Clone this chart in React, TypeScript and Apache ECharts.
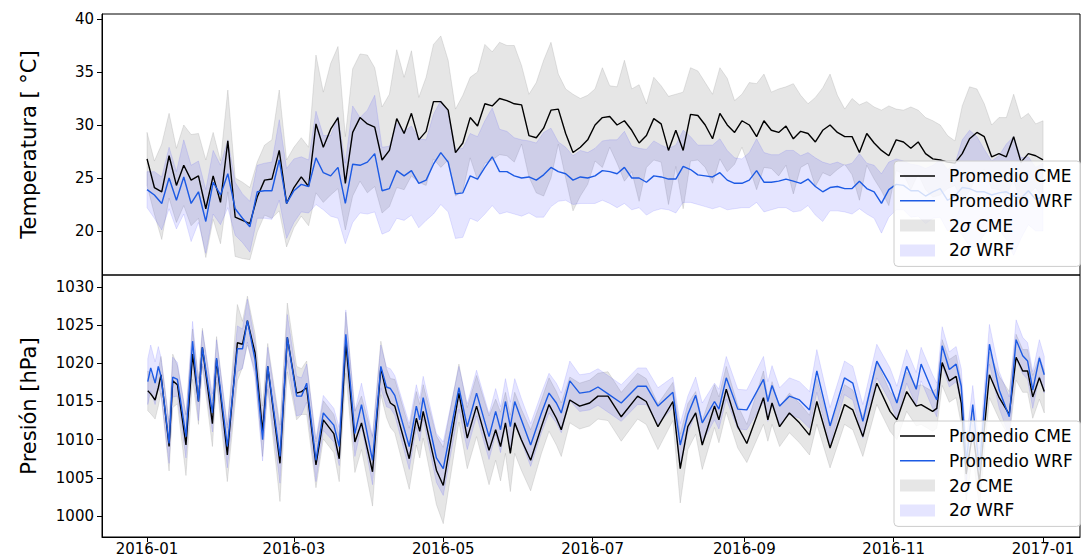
import React, { useEffect, useRef } from "react";
import * as echarts from "echarts";

// ---- axis ticks ----
const monthTicks = [0, 60, 121, 182, 244, 305, 366]; // days since 2016-01-01
const monthLabels = ["2016-01", "2016-03", "2016-05", "2016-07", "2016-09", "2016-11", "2017-01"];
const tempTicks = [20, 25, 30, 35, 40];
const presTicks = [1000, 1005, 1010, 1015, 1020, 1025, 1030];

// ---- temperature (°C), one sample every 3 days from 2016-01-01 ----
const tempStepDays = 3;
const tempCme = [
  26.8, 24.1, 23.7, 27.1, 24.3, 26.2, 24.8, 25.2, 22.1, 25.2,
  22.7, 28.5, 21.3, 21.0, 20.7, 23.2, 24.8, 24.9, 27.6, 22.6,
  24.1, 25.1, 24.2, 30.1, 27.9, 29.6, 30.7, 24.5, 29.3, 30.7,
  30.1, 29.8, 26.7, 27.6, 30.6, 29.2, 31.1, 28.6, 29.4, 32.2,
  32.2, 31.4, 27.4, 28.3, 30.7, 29.9, 32.0, 31.8, 32.5, 32.3,
  32.0, 31.9, 29.0, 28.8, 29.7, 31.4, 31.5, 29.2, 27.4, 27.9,
  28.6, 30.0, 30.7, 30.8, 30.0, 30.4, 29.5, 28.3, 29.0, 30.6,
  30.1, 27.6, 29.5, 27.6, 31.0, 30.9, 30.0, 28.7, 31.1, 30.0,
  29.3, 30.4, 30.0, 28.9, 30.4, 29.5, 29.3, 29.9, 28.7, 29.4,
  29.2, 28.4, 29.5, 30.0, 29.3, 28.9, 28.9, 27.4, 29.2, 28.3,
  27.6, 27.1, 28.6, 28.4, 27.8, 28.4, 27.3, 26.8, 26.7, 26.5,
  26.4, 27.3, 28.7, 29.3, 28.9, 27.0, 27.3, 27.0, 28.9, 26.5,
  27.3, 27.1, 26.7,
];
const tempWrf = [
  23.9, 23.4, 22.6, 25.0, 22.9, 25.1, 22.6, 23.7, 20.9, 24.6,
  23.4, 25.4, 22.1, 21.2, 20.4, 23.7, 23.8, 23.8, 26.7, 22.6,
  23.8, 24.4, 24.2, 26.9, 25.5, 25.2, 26.0, 22.6, 26.3, 26.2,
  26.5, 27.3, 23.8, 24.0, 25.7, 25.2, 25.7, 24.5, 24.8, 26.3,
  27.4, 26.5, 23.5, 23.6, 25.2, 24.9, 26.0, 27.0, 25.6, 25.6,
  25.2, 25.0, 25.1, 24.8, 25.3, 26.0, 25.6, 25.4, 24.8, 25.1,
  25.0, 25.2, 25.7, 25.6, 25.4, 26.0, 25.0, 25.0, 24.6, 25.2,
  25.1, 24.9, 24.9, 26.1, 25.8, 25.3, 25.2, 25.1, 25.5, 24.8,
  24.5, 24.5, 24.8, 25.7, 24.6, 24.6, 24.7, 24.9, 24.7, 24.5,
  24.9, 24.2, 23.7, 24.1, 24.2, 24.0, 24.0, 24.7, 24.0, 23.7,
  22.6, 23.9, 24.4, 24.3, 23.8, 23.8, 23.3, 23.7, 24.0, 22.9,
  23.3, 24.1, 24.0, 23.7, 23.7, 23.4, 23.6, 23.7, 23.3, 23.1,
  23.8, 23.0, 23.2,
];
// half width of the 2σ band
const tempCme2s = [
  2.5, 2.5, 4.5, 4.0, 3.5, 3.8, 4.3, 4.0, 4.6, 4.1,
  3.9, 4.8, 3.7, 3.6, 3.4, 3.3, 3.3, 3.7, 5.7, 4.1,
  3.8, 3.7, 3.7, 6.5, 5.2, 6.2, 6.7, 4.4, 6.0, 6.0,
  6.5, 5.6, 5.0, 5.3, 6.5, 5.3, 5.9, 4.0, 5.1, 5.4,
  6.2, 4.7, 4.1, 4.5, 3.8, 5.1, 5.6, 5.1, 5.3, 5.2,
  5.5, 3.7, 3.9, 5.2, 6.4, 6.4, 3.3, 4.2, 5.5, 4.6,
  4.2, 3.4, 4.7, 2.9, 3.6, 5.7, 3.9, 5.5, 3.0, 3.9,
  3.6, 5.1, 3.4, 5.5, 4.4, 4.2, 4.0, 4.2, 4.3, 4.4,
  3.0, 2.5, 4.0, 5.0, 4.4, 3.6, 4.1, 3.7, 5.2, 3.4,
  2.8, 4.2, 4.0, 4.8, 3.5, 2.6, 3.6, 4.5, 3.0, 3.4,
  3.8, 4.7, 2.9, 3.0, 3.9, 3.0, 3.4, 3.6, 3.3, 2.5,
  2.1, 4.5, 4.9, 4.1, 3.1, 3.0, 3.4, 3.7, 4.0, 4.1,
  3.8, 3.0, 3.7,
];
const tempWrf2s = [
  1.7, 2.2, 2.5, 2.9, 2.7, 3.5, 3.6, 2.9, 3.0, 3.0,
  2.8, 3.2, 2.5, 2.3, 2.4, 2.5, 2.6, 2.7, 3.8, 3.3,
  3.0, 2.6, 2.5, 4.4, 3.5, 3.8, 4.8, 3.8, 5.5, 4.5,
  4.9, 5.5, 4.1, 4.0, 4.5, 4.2, 4.2, 4.2, 3.8, 4.7,
  4.9, 4.7, 4.2, 4.2, 4.0, 4.0, 4.4, 4.6, 4.0, 3.8,
  3.6, 3.6, 3.4, 3.5, 4.0, 3.7, 2.8, 2.5, 2.3, 2.5,
  2.4, 2.6, 2.8, 3.0, 3.2, 3.4, 3.0, 2.8, 3.1, 3.3,
  3.0, 2.9, 3.2, 3.4, 3.1, 2.8, 2.9, 3.0, 3.2, 2.8,
  2.4, 2.3, 2.6, 3.0, 2.8, 2.6, 2.5, 2.7, 2.9, 2.6,
  2.5, 2.7, 2.8, 2.2, 2.3, 2.2, 2.4, 2.6, 2.4, 2.5,
  2.8, 2.6, 2.4, 2.3, 2.5, 2.4, 2.6, 2.5, 2.7, 2.9,
  3.0, 4.5, 5.5, 5.2, 4.0, 3.2, 3.5, 4.5, 5.6, 3.8,
  3.2, 3.0, 3.2,
];

// ---- pressure (hPa) at the turning points of the series ----
const presDays = [
  0.3, 1.5, 3.3, 4.6, 5.7, 9.0, 10.5, 12.4, 15.9, 18.6,
  21.0, 22.6, 26.7, 28.4, 32.8, 36.9, 39.0, 41.0, 44.1, 47.2,
  49.3, 54.3, 57.3, 61.1, 63.1, 65.2, 69.0, 72.0, 76.3, 78.5,
  81.2, 84.9, 87.6, 92.1, 95.5, 97.8, 99.4, 101.2, 107.1, 110.0,
  111.4, 112.8, 118.2, 121.0, 127.4, 130.8, 134.6, 139.7, 142.4, 144.4,
  146.4, 148.4, 150.2, 152.9, 156.7, 161.1, 164.2, 167.2, 169.2, 172.7,
  176.7, 180.8, 184.2, 188.3, 193.7, 200.4, 203.9, 208.7, 214.8, 217.8,
  220.9, 224.1, 226.8, 231.8, 233.6, 236.6, 241.3, 245.0, 251.8, 253.6,
  255.3, 258.4, 262.4, 266.5, 270.6, 273.6, 279.0, 284.9, 288.3, 292.4,
  298.1, 303.5, 306.3, 310.3, 314.2, 316.2, 320.9, 322.6, 324.8, 327.7,
  330.5, 332.6, 334.6, 337.3, 340.0, 344.1, 348.1, 352.2, 355.0, 357.7,
  359.7, 361.8, 364.5, 366.5,
];
const presCme = [
  1016.4, 1016.0, 1015.2, 1016.8, 1018.5, 1009.1, 1017.7, 1017.2, 1009.3, 1021.2,
  1015.0, 1022.1, 1012.1, 1020.5, 1008.0, 1022.7, 1022.5, 1025.6, 1021.4, 1011.1,
  1019.6, 1006.9, 1023.4, 1016.1, 1016.3, 1016.8, 1006.7, 1012.6, 1010.8, 1007.5,
  1022.7, 1009.7, 1012.2, 1005.8, 1019.4, 1016.1, 1014.8, 1014.4, 1007.5, 1012.8,
  1011.1, 1013.7, 1006.0, 1004.0, 1016.1, 1010.2, 1014.4, 1008.6, 1011.3, 1009.1,
  1012.2, 1008.2, 1012.2, 1010.0, 1007.3, 1011.7, 1014.6, 1012.8, 1011.3, 1015.2,
  1014.4, 1014.8, 1015.7, 1015.7, 1013.0, 1015.7, 1015.0, 1011.7, 1015.0, 1006.2,
  1011.7, 1013.5, 1009.3, 1014.4, 1012.6, 1016.6, 1011.7, 1009.5, 1015.5, 1012.6,
  1014.8, 1011.7, 1013.5, 1012.2, 1010.6, 1015.0, 1008.9, 1014.6, 1013.9, 1010.4,
  1017.4, 1013.7, 1012.6, 1016.3, 1014.4, 1014.6, 1013.7, 1014.1, 1020.1, 1017.7,
  1018.3, 1014.8, 1005.5, 1011.0, 1004.5, 1018.5, 1015.5, 1013.3, 1020.8, 1019.0,
  1019.0, 1015.6, 1018.1, 1016.3,
];
const presWrf = [
  1017.6, 1019.4, 1017.4, 1019.6, 1018.3, 1009.5, 1018.2, 1017.9, 1010.4, 1022.9,
  1015.0, 1022.1, 1013.5, 1020.7, 1009.1, 1021.9, 1021.9, 1025.6, 1020.5, 1010.0,
  1019.6, 1007.8, 1023.4, 1015.7, 1015.7, 1017.4, 1007.3, 1013.5, 1011.9, 1009.1,
  1023.8, 1010.8, 1014.6, 1007.3, 1019.6, 1016.9, 1016.7, 1015.8, 1009.1, 1014.4,
  1012.6, 1015.5, 1007.6, 1006.2, 1016.8, 1011.7, 1016.1, 1010.4, 1013.7, 1011.3,
  1015.0, 1011.7, 1015.0, 1012.6, 1009.3, 1013.5, 1016.1, 1014.8, 1013.5, 1017.7,
  1016.1, 1016.3, 1016.9, 1016.0, 1014.8, 1017.0, 1017.0, 1014.4, 1016.2, 1009.3,
  1013.3, 1015.8, 1012.2, 1015.0, 1014.0, 1018.1, 1014.0, 1013.9, 1017.9, 1015.0,
  1017.1, 1014.4, 1015.7, 1015.2, 1013.9, 1019.0, 1011.8, 1018.1, 1017.4, 1012.4,
  1020.3, 1017.2, 1014.8, 1019.6, 1016.6, 1019.9, 1016.3, 1015.2, 1022.3, 1019.2,
  1019.9, 1017.0, 1007.0, 1014.6, 1006.0, 1022.5, 1016.5, 1013.0, 1023.1, 1021.0,
  1020.3, 1016.5, 1020.7, 1018.5,
];
const presCme2s = [
  2.6, 2.6, 2.5, 2.4, 2.4, 3.2, 3.5, 2.5, 4.0, 3.3,
  3.0, 2.5, 3.0, 3.0, 3.5, 5.0, 3.0, 3.2, 2.5, 3.3,
  3.0, 5.0, 4.5, 3.5, 3.0, 3.5, 3.0, 2.5, 2.5, 3.0,
  4.0, 4.0, 3.5, 4.5, 3.5, 3.2, 3.2, 3.5, 4.0, 3.5,
  3.5, 3.5, 4.5, 5.0, 3.8, 4.0, 4.0, 4.5, 4.0, 4.5,
  4.0, 5.0, 4.0, 4.0, 4.0, 3.5, 3.5, 3.5, 3.5, 3.0,
  3.0, 3.0, 3.0, 3.2, 3.2, 3.0, 3.0, 3.0, 2.5, 4.5,
  3.0, 2.8, 3.2, 2.8, 3.0, 3.0, 2.8, 2.5, 3.5, 2.8,
  2.8, 2.6, 2.6, 2.6, 2.6, 3.0, 2.6, 2.6, 2.6, 2.6,
  2.8, 2.6, 2.6, 2.6, 2.6, 2.6, 2.6, 2.6, 3.0, 2.8,
  2.8, 2.8, 3.5, 3.0, 3.5, 3.0, 2.8, 3.0, 3.0, 2.8,
  2.8, 2.8, 2.8, 2.8,
];
const presWrf2s = [
  3.0, 3.0, 2.8, 2.6, 2.5, 2.6, 2.6, 2.2, 2.8, 2.6,
  2.5, 2.2, 2.5, 2.4, 2.8, 3.0, 2.6, 2.8, 2.3, 2.8,
  2.5, 3.5, 3.0, 2.6, 2.4, 2.5, 2.8, 2.3, 2.2, 2.5,
  3.2, 3.0, 2.8, 3.2, 2.8, 2.6, 2.6, 2.6, 3.0, 2.8,
  2.8, 2.8, 3.2, 3.5, 2.8, 3.0, 3.0, 3.0, 3.0, 3.0,
  3.0, 3.2, 3.0, 2.8, 2.8, 2.6, 2.6, 2.6, 2.6, 2.6,
  2.4, 2.4, 2.4, 2.4, 2.4, 2.4, 2.4, 2.4, 2.0, 2.8,
  2.4, 2.4, 2.6, 2.4, 2.6, 2.8, 2.6, 2.6, 3.0, 2.6,
  2.6, 2.4, 2.4, 2.4, 2.4, 2.8, 2.4, 2.2, 2.2, 2.2,
  2.2, 2.2, 2.2, 2.2, 2.2, 2.2, 2.2, 2.2, 2.5, 2.3,
  2.3, 2.3, 2.8, 2.5, 2.8, 2.6, 2.4, 2.6, 2.6, 2.4,
  2.4, 2.4, 2.4, 2.4,
];

// ---- styling ----
const FONT = "DejaVu Sans";
const CME_COLOR = "#000000";
const WRF_COLOR = "#1c5ae4";
const GRAY_FILL = "rgba(128,128,128,0.2)";
const GRAY_EDGE = "rgba(128,128,128,0.25)";
const BLUE_FILL = "rgba(0,0,255,0.1)";
const BLUE_EDGE = "rgba(0,0,255,0.13)";
const X_MIN = -18.4;
const X_MAX = 381.1;
const LINE_ICON = "path://M0,0H35V1.6H0Z";

const round2 = (v: number) => Math.round(v * 100) / 100;

// mean ± 2σ band drawn as one polygon through the axis scales
function band(
  name: string,
  days: number[],
  mean: number[],
  half: number[],
  axis: number,
  fill: string,
  edge: string
) {
  const upper = days.map((d, i) => [d, round2(mean[i] + half[i])]);
  const lower = days.map((d, i) => [d, round2(mean[i] - half[i])]);
  return {
    type: "custom",
    name,
    xAxisIndex: axis,
    yAxisIndex: axis,
    z: 1,
    silent: true,
    clip: true,
    itemStyle: { color: fill },
    data: days.map((d, i) => [d, lower[i][1], upper[i][1]]),
    encode: { x: 0, y: [1, 2] },
    renderItem: (params: any, api: any) => {
      if (params.dataIndex !== 0) return null;
      const pts = upper
        .map((p) => api.coord(p))
        .concat(lower.slice().reverse().map((p) => api.coord(p)));
      return {
        type: "polygon",
        shape: { points: pts },
        style: { fill, stroke: edge, lineWidth: 0.8 },
      };
    },
  };
}

function meanLine(name: string, days: number[], values: number[], axis: number, color: string) {
  return {
    type: "line",
    name,
    xAxisIndex: axis,
    yAxisIndex: axis,
    symbol: "none",
    z: 2,
    data: days.map((d, i) => [d, values[i]]),
    lineStyle: { color, width: 1.4 },
    itemStyle: { color },
  };
}

function legendAt(top: number) {
  return {
    orient: "vertical",
    left: 894,
    top,
    selectedMode: false,
    itemWidth: 35,
    itemHeight: 12,
    itemGap: 4.8,
    symbolKeepAspect: true,
    padding: [5, 8, 6, 6],
    backgroundColor: "rgba(255,255,255,0.8)",
    borderColor: "#cccccc",
    borderWidth: 1,
    borderRadius: 4,
    formatter: (n: string) => n.replace("σ", "{i|σ}"),
    textStyle: {
      fontFamily: FONT,
      fontSize: 17,
      lineHeight: 20,
      color: "#000",
      padding: [0, 0, 0, 9],
      rich: { i: { fontFamily: FONT, fontSize: 17, fontStyle: "italic", color: "#000" } },
    },
    data: [
      { name: "Promedio CME", icon: LINE_ICON, itemStyle: { color: CME_COLOR } },
      { name: "Promedio WRF", icon: LINE_ICON, itemStyle: { color: WRF_COLOR } },
      { name: "2σ CME", icon: "rect", itemStyle: { color: GRAY_FILL, borderWidth: 0 } },
      { name: "2σ WRF", icon: "rect", itemStyle: { color: BLUE_FILL, borderWidth: 0 } },
    ],
  };
}

function yAxisFor(grid: number, min: number, max: number, ticks: number[], name: string) {
  return {
    type: "value",
    gridIndex: grid,
    min,
    max,
    name,
    nameLocation: "middle",
    nameGap: 63,
    nameTextStyle: { fontFamily: FONT, fontSize: 21, color: "#000" },
    axisLine: { show: true, onZero: false, lineStyle: { color: "#000", width: 1 } },
    axisTick: { show: true, length: 5, customValues: ticks, lineStyle: { color: "#000", width: 1 } },
    axisLabel: {
      customValues: ticks,
      formatter: (v: number) => String(v),
      fontFamily: FONT,
      fontSize: 15,
      color: "#000",
      margin: 8,
    },
    splitLine: { show: false },
  };
}

export default function App() {
  const ref = useRef<HTMLDivElement>(null);

  useEffect(() => {
    if (!ref.current) return;
    const chart = echarts.init(ref.current, null, { renderer: "svg" });
    const tempDays = tempCme.map((_, i) => i * tempStepDays);

    chart.setOption({
      animation: false,
      backgroundColor: "#ffffff",
      grid: [
        { left: 102, top: 14, width: 978, height: 261, show: true, borderColor: "#000", borderWidth: 1 },
        { left: 102, top: 275, width: 978, height: 262, show: true, borderColor: "#000", borderWidth: 1 },
      ],
      xAxis: [
        {
          type: "value",
          gridIndex: 0,
          min: X_MIN,
          max: X_MAX,
          axisLine: { show: false, onZero: false },
          axisTick: { show: false },
          axisLabel: { show: false },
          splitLine: { show: false },
        },
        {
          type: "value",
          gridIndex: 1,
          min: X_MIN,
          max: X_MAX,
          axisLine: { show: true, onZero: false, lineStyle: { color: "#000", width: 1 } },
          axisTick: { show: true, length: 5, customValues: monthTicks, lineStyle: { color: "#000", width: 1 } },
          axisLabel: {
            customValues: monthTicks,
            formatter: (v: number) => {
              const k = monthTicks.indexOf(Math.round(v));
              return k >= 0 ? monthLabels[k] : "";
            },
            fontFamily: FONT,
            fontSize: 15,
            color: "#000",
            margin: 4,
          },
          splitLine: { show: false },
        },
      ],
      yAxis: [
        yAxisFor(0, 15.85, 40.47, tempTicks, "Temperatura [ °C]"),
        yAxisFor(1, 997.25, 1031.57, presTicks, "Presión [hPa]"),
      ],
      legend: [legendAt(161), legendAt(421)],
      series: [
        band("2σ CME", tempDays, tempCme, tempCme2s, 0, GRAY_FILL, GRAY_EDGE),
        band("2σ WRF", tempDays, tempWrf, tempWrf2s, 0, BLUE_FILL, BLUE_EDGE),
        meanLine("Promedio CME", tempDays, tempCme, 0, CME_COLOR),
        meanLine("Promedio WRF", tempDays, tempWrf, 0, WRF_COLOR),
        band("2σ CME", presDays, presCme, presCme2s, 1, GRAY_FILL, GRAY_EDGE),
        band("2σ WRF", presDays, presWrf, presWrf2s, 1, BLUE_FILL, BLUE_EDGE),
        meanLine("Promedio CME", presDays, presCme, 1, CME_COLOR),
        meanLine("Promedio WRF", presDays, presWrf, 1, WRF_COLOR),
      ],
    });

    return () => chart.dispose();
  }, []);

  return (
    <div
      ref={ref}
      style={{ position: "fixed", left: 0, top: 0, width: 1081, height: 557, background: "#fff" }}
    />
  );
}
